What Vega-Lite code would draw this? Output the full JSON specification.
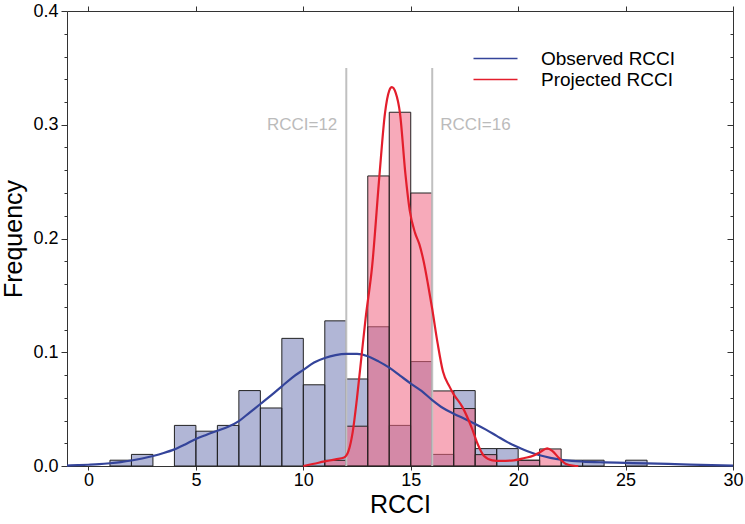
{
  "$schema": "https://vega.github.io/schema/vega-lite/v6.json",
  "width": 666,
  "height": 455,
  "autosize": {"type": "none"},
  "padding": {"left": 67, "top": 11, "right": 12, "bottom": 58},
  "background": "white",
  "config": {
    "font": "Liberation Sans",
    "view": {"stroke": "#333333"},
    "axis": {"grid": false, "domainColor": "#333333", "tickColor": "#333333", "labelColor": "#000000", "titleColor": "#000000", "titleFontWeight": "normal", "labelFont": "Liberation Sans", "titleFont": "Liberation Sans"}
  },
  "datasets": {
    "bars": [
      {"series": "Observed RCCI", "lo": 1, "hi": 2, "freq": 0.0051},
      {"series": "Observed RCCI", "lo": 2, "hi": 3, "freq": 0.0102},
      {"series": "Observed RCCI", "lo": 4, "hi": 5, "freq": 0.0357},
      {"series": "Observed RCCI", "lo": 5, "hi": 6, "freq": 0.0306},
      {"series": "Observed RCCI", "lo": 6, "hi": 7, "freq": 0.0357},
      {"series": "Observed RCCI", "lo": 7, "hi": 8, "freq": 0.0663},
      {"series": "Observed RCCI", "lo": 8, "hi": 9, "freq": 0.0510},
      {"series": "Observed RCCI", "lo": 9, "hi": 10, "freq": 0.1122},
      {"series": "Observed RCCI", "lo": 10, "hi": 11, "freq": 0.0714},
      {"series": "Observed RCCI", "lo": 11, "hi": 12, "freq": 0.1276},
      {"series": "Observed RCCI", "lo": 12, "hi": 13, "freq": 0.0765},
      {"series": "Observed RCCI", "lo": 13, "hi": 14, "freq": 0.1224},
      {"series": "Observed RCCI", "lo": 14, "hi": 15, "freq": 0.0357},
      {"series": "Observed RCCI", "lo": 15, "hi": 16, "freq": 0.0918},
      {"series": "Observed RCCI", "lo": 16, "hi": 17, "freq": 0.0102},
      {"series": "Observed RCCI", "lo": 17, "hi": 18, "freq": 0.0663},
      {"series": "Observed RCCI", "lo": 18, "hi": 19, "freq": 0.0153},
      {"series": "Observed RCCI", "lo": 19, "hi": 20, "freq": 0.0153},
      {"series": "Observed RCCI", "lo": 20, "hi": 21, "freq": 0.0051},
      {"series": "Observed RCCI", "lo": 22, "hi": 23, "freq": 0.0051},
      {"series": "Observed RCCI", "lo": 23, "hi": 24, "freq": 0.0051},
      {"series": "Observed RCCI", "lo": 25, "hi": 26, "freq": 0.0051},
      {"series": "Projected RCCI", "lo": 11, "hi": 12, "freq": 0.005},
      {"series": "Projected RCCI", "lo": 12, "hi": 13, "freq": 0.035},
      {"series": "Projected RCCI", "lo": 13, "hi": 14, "freq": 0.255},
      {"series": "Projected RCCI", "lo": 14, "hi": 15, "freq": 0.311},
      {"series": "Projected RCCI", "lo": 15, "hi": 16, "freq": 0.24},
      {"series": "Projected RCCI", "lo": 16, "hi": 17, "freq": 0.066},
      {"series": "Projected RCCI", "lo": 17, "hi": 18, "freq": 0.0505},
      {"series": "Projected RCCI", "lo": 18, "hi": 19, "freq": 0.01},
      {"series": "Projected RCCI", "lo": 20, "hi": 21, "freq": 0.005},
      {"series": "Projected RCCI", "lo": 21, "hi": 22, "freq": 0.015}
    ],
    "kde": [
      {"series": "Observed RCCI", "x": -1, "y": 0.0004},
      {"series": "Observed RCCI", "x": -0.5, "y": 0.0007},
      {"series": "Observed RCCI", "x": 0, "y": 0.0011},
      {"series": "Observed RCCI", "x": 0.5, "y": 0.0016},
      {"series": "Observed RCCI", "x": 1, "y": 0.0024},
      {"series": "Observed RCCI", "x": 1.5, "y": 0.0034},
      {"series": "Observed RCCI", "x": 2, "y": 0.0048},
      {"series": "Observed RCCI", "x": 2.5, "y": 0.0066},
      {"series": "Observed RCCI", "x": 3, "y": 0.0088},
      {"series": "Observed RCCI", "x": 3.5, "y": 0.0114},
      {"series": "Observed RCCI", "x": 4, "y": 0.0146},
      {"series": "Observed RCCI", "x": 4.5, "y": 0.019},
      {"series": "Observed RCCI", "x": 5, "y": 0.0238},
      {"series": "Observed RCCI", "x": 5.5, "y": 0.0275},
      {"series": "Observed RCCI", "x": 6, "y": 0.031},
      {"series": "Observed RCCI", "x": 6.5, "y": 0.0345},
      {"series": "Observed RCCI", "x": 7, "y": 0.0395},
      {"series": "Observed RCCI", "x": 7.5, "y": 0.047},
      {"series": "Observed RCCI", "x": 8, "y": 0.0545},
      {"series": "Observed RCCI", "x": 8.5, "y": 0.062},
      {"series": "Observed RCCI", "x": 9, "y": 0.07},
      {"series": "Observed RCCI", "x": 9.5, "y": 0.078},
      {"series": "Observed RCCI", "x": 10, "y": 0.0845},
      {"series": "Observed RCCI", "x": 10.5, "y": 0.091},
      {"series": "Observed RCCI", "x": 11, "y": 0.095},
      {"series": "Observed RCCI", "x": 11.5, "y": 0.0975},
      {"series": "Observed RCCI", "x": 12, "y": 0.0985},
      {"series": "Observed RCCI", "x": 12.5, "y": 0.0985},
      {"series": "Observed RCCI", "x": 13, "y": 0.0965},
      {"series": "Observed RCCI", "x": 13.5, "y": 0.092},
      {"series": "Observed RCCI", "x": 14, "y": 0.0865},
      {"series": "Observed RCCI", "x": 14.5, "y": 0.0795},
      {"series": "Observed RCCI", "x": 15, "y": 0.0725},
      {"series": "Observed RCCI", "x": 15.5, "y": 0.066},
      {"series": "Observed RCCI", "x": 16, "y": 0.058},
      {"series": "Observed RCCI", "x": 16.5, "y": 0.051},
      {"series": "Observed RCCI", "x": 17, "y": 0.046},
      {"series": "Observed RCCI", "x": 17.5, "y": 0.0415},
      {"series": "Observed RCCI", "x": 18, "y": 0.037},
      {"series": "Observed RCCI", "x": 18.5, "y": 0.032},
      {"series": "Observed RCCI", "x": 19, "y": 0.0265},
      {"series": "Observed RCCI", "x": 19.5, "y": 0.021},
      {"series": "Observed RCCI", "x": 20, "y": 0.0165},
      {"series": "Observed RCCI", "x": 20.5, "y": 0.0125},
      {"series": "Observed RCCI", "x": 21, "y": 0.0095},
      {"series": "Observed RCCI", "x": 21.5, "y": 0.0072},
      {"series": "Observed RCCI", "x": 22, "y": 0.0055},
      {"series": "Observed RCCI", "x": 22.5, "y": 0.0045},
      {"series": "Observed RCCI", "x": 23, "y": 0.0039},
      {"series": "Observed RCCI", "x": 24, "y": 0.0032},
      {"series": "Observed RCCI", "x": 25, "y": 0.0027},
      {"series": "Observed RCCI", "x": 26, "y": 0.0023},
      {"series": "Observed RCCI", "x": 27, "y": 0.0018},
      {"series": "Observed RCCI", "x": 28, "y": 0.0012},
      {"series": "Observed RCCI", "x": 29, "y": 0.0007},
      {"series": "Observed RCCI", "x": 30, "y": 0.0004},
      {"series": "Projected RCCI", "x": 10, "y": 0.0},
      {"series": "Projected RCCI", "x": 10.5, "y": 0.002},
      {"series": "Projected RCCI", "x": 11, "y": 0.004},
      {"series": "Projected RCCI", "x": 11.5, "y": 0.0058},
      {"series": "Projected RCCI", "x": 11.9, "y": 0.0075},
      {"series": "Projected RCCI", "x": 12.1, "y": 0.013},
      {"series": "Projected RCCI", "x": 12.3, "y": 0.03},
      {"series": "Projected RCCI", "x": 12.5, "y": 0.06},
      {"series": "Projected RCCI", "x": 12.7, "y": 0.095},
      {"series": "Projected RCCI", "x": 12.9, "y": 0.13},
      {"series": "Projected RCCI", "x": 13.2, "y": 0.175},
      {"series": "Projected RCCI", "x": 13.55, "y": 0.257},
      {"series": "Projected RCCI", "x": 13.8, "y": 0.31},
      {"series": "Projected RCCI", "x": 14.0, "y": 0.33},
      {"series": "Projected RCCI", "x": 14.12, "y": 0.333},
      {"series": "Projected RCCI", "x": 14.3, "y": 0.328},
      {"series": "Projected RCCI", "x": 14.5, "y": 0.31},
      {"series": "Projected RCCI", "x": 14.75, "y": 0.257},
      {"series": "Projected RCCI", "x": 14.95, "y": 0.225},
      {"series": "Projected RCCI", "x": 15.2, "y": 0.205},
      {"series": "Projected RCCI", "x": 15.4, "y": 0.195},
      {"series": "Projected RCCI", "x": 15.6, "y": 0.18},
      {"series": "Projected RCCI", "x": 15.8, "y": 0.16},
      {"series": "Projected RCCI", "x": 16.0, "y": 0.138},
      {"series": "Projected RCCI", "x": 16.25, "y": 0.108},
      {"series": "Projected RCCI", "x": 16.5, "y": 0.083},
      {"series": "Projected RCCI", "x": 16.8, "y": 0.07},
      {"series": "Projected RCCI", "x": 17.0, "y": 0.063},
      {"series": "Projected RCCI", "x": 17.4, "y": 0.052},
      {"series": "Projected RCCI", "x": 17.85, "y": 0.033},
      {"series": "Projected RCCI", "x": 18.1, "y": 0.02},
      {"series": "Projected RCCI", "x": 18.4, "y": 0.009},
      {"series": "Projected RCCI", "x": 18.8, "y": 0.005},
      {"series": "Projected RCCI", "x": 19.2, "y": 0.0045},
      {"series": "Projected RCCI", "x": 19.8, "y": 0.005},
      {"series": "Projected RCCI", "x": 20.3, "y": 0.007},
      {"series": "Projected RCCI", "x": 20.7, "y": 0.009},
      {"series": "Projected RCCI", "x": 21.0, "y": 0.012},
      {"series": "Projected RCCI", "x": 21.35, "y": 0.0155},
      {"series": "Projected RCCI", "x": 21.6, "y": 0.013},
      {"series": "Projected RCCI", "x": 21.9, "y": 0.007},
      {"series": "Projected RCCI", "x": 22.2, "y": 0.002},
      {"series": "Projected RCCI", "x": 22.6, "y": 0.0002},
      {"series": "Projected RCCI", "x": 22.8, "y": 0.0}
    ],
    "refs": [
      {"x": 12, "y0": 0, "y1": 0.35, "ty": 0.3, "label": "RCCI=12"},
      {"x": 16, "y0": 0, "y1": 0.35, "ty": 0.3, "label": "RCCI=16"}
    ]
  },
  "layer": [
    {
      "data": {"name": "bars"},
      "transform": [{"filter": "datum.series === 'Observed RCCI'"}],
      "mark": {"type": "bar", "fill": "#2b3990", "fillOpacity": 0.37, "stroke": "#222222", "strokeWidth": 1},
      "encoding": {
        "x": {"field": "lo", "type": "quantitative", "scale": {"domain": [-1, 30], "nice": false, "zero": false},
          "axis": {"orient": "bottom", "values": [0, 5, 10, 15, 20, 25, 30], "title": "RCCI", "titleFontSize": 25, "labelFontSize": 18, "tickSize": 4, "labelPadding": 1, "titlePadding": 3, "labelFlush": false}},
        "x2": {"field": "hi"},
        "y": {"field": "freq", "type": "quantitative", "scale": {"domain": [0, 0.4], "nice": false}, "axis": null},
        "y2": {"datum": 0}
      }
    },
    {
      "data": {"name": "bars"},
      "transform": [{"filter": "datum.series === 'Projected RCCI'"}],
      "mark": {"type": "bar", "fill": "#f06482", "fillOpacity": 0.55, "stroke": "#222222", "strokeWidth": 1},
      "encoding": {
        "x": {"field": "lo", "type": "quantitative",
          "axis": {"orient": "top", "values": [0, 5, 10, 15, 20, 25, 30], "labels": false, "title": null, "tickSize": 5, "domain": false}},
        "x2": {"field": "hi"},
        "y": {"field": "freq", "type": "quantitative", "axis": null},
        "y2": {"datum": 0}
      }
    },
    {
      "data": {"name": "refs"},
      "mark": {"type": "rule", "color": "#c0c0c0", "strokeWidth": 2},
      "encoding": {
        "x": {"field": "x", "type": "quantitative", "axis": null},
        "y": {"field": "y0", "type": "quantitative",
          "axis": {"orient": "left", "values": [0, 0.1, 0.2, 0.3, 0.4], "format": ".1f", "domain": false,
            "tickSize": 6, "title": "Frequency", "titleFontSize": 25, "labelFontSize": 18, "labelPadding": 3, "titlePadding": 6, "labelFlush": false}},
        "y2": {"field": "y1"}
      }
    },
    {
      "data": {"name": "refs"},
      "transform": [{"filter": "datum.x === 12"}],
      "mark": {"type": "text", "align": "right", "baseline": "middle", "dx": -9, "fontSize": 17, "color": "#bbbbbb"},
      "encoding": {
        "x": {"field": "x", "type": "quantitative", "axis": null},
        "y": {"field": "ty", "type": "quantitative",
          "axis": {"orient": "right", "values": [0, 0.1, 0.2, 0.3, 0.4], "labels": false, "title": null, "domain": false, "tickSize": -6}},
        "text": {"field": "label"}
      }
    },
    {
      "data": {"name": "refs"},
      "transform": [{"filter": "datum.x === 16"}],
      "mark": {"type": "text", "align": "left", "baseline": "middle", "dx": 8, "fontSize": 17, "color": "#bbbbbb"},
      "encoding": {
        "x": {"field": "x", "type": "quantitative", "axis": null},
        "y": {"field": "ty", "type": "quantitative",
          "axis": {"orient": "left", "values": [0.02, 0.04, 0.06, 0.08, 0.12, 0.14, 0.16, 0.18, 0.22, 0.24, 0.26, 0.28, 0.32, 0.34, 0.36, 0.38], "labels": false, "title": null, "domain": false, "tickSize": 3}},
        "text": {"field": "label"}
      }
    },
    {
      "data": {"name": "kde"},
      "mark": {"type": "line", "strokeWidth": 2.2, "interpolate": "monotone"},
      "encoding": {
        "x": {"field": "x", "type": "quantitative", "axis": null},
        "y": {"field": "y", "type": "quantitative",
          "axis": {"orient": "right", "values": [0.02, 0.04, 0.06, 0.08, 0.12, 0.14, 0.16, 0.18, 0.22, 0.24, 0.26, 0.28, 0.32, 0.34, 0.36, 0.38], "labels": false, "title": null, "domain": false, "tickSize": -3}},
        "color": {"field": "series", "type": "nominal",
          "scale": {"domain": ["Observed RCCI", "Projected RCCI"], "range": ["#34449a", "#e31e2c"]},
          "legend": {"orient": "none", "legendX": 419, "legendY": 38, "title": null, "symbolType": "M-4.4,0H4.4", "symbolSize": 100, "symbolStrokeWidth": 1.3, "labelFontSize": 19, "labelOffset": 36, "labelFont": "Liberation Sans", "labelColor": "#000000", "rowPadding": 1, "padding": 0}}
      }
    }
  ],
  "resolve": {"axis": {"x": "independent", "y": "independent"}}
}
